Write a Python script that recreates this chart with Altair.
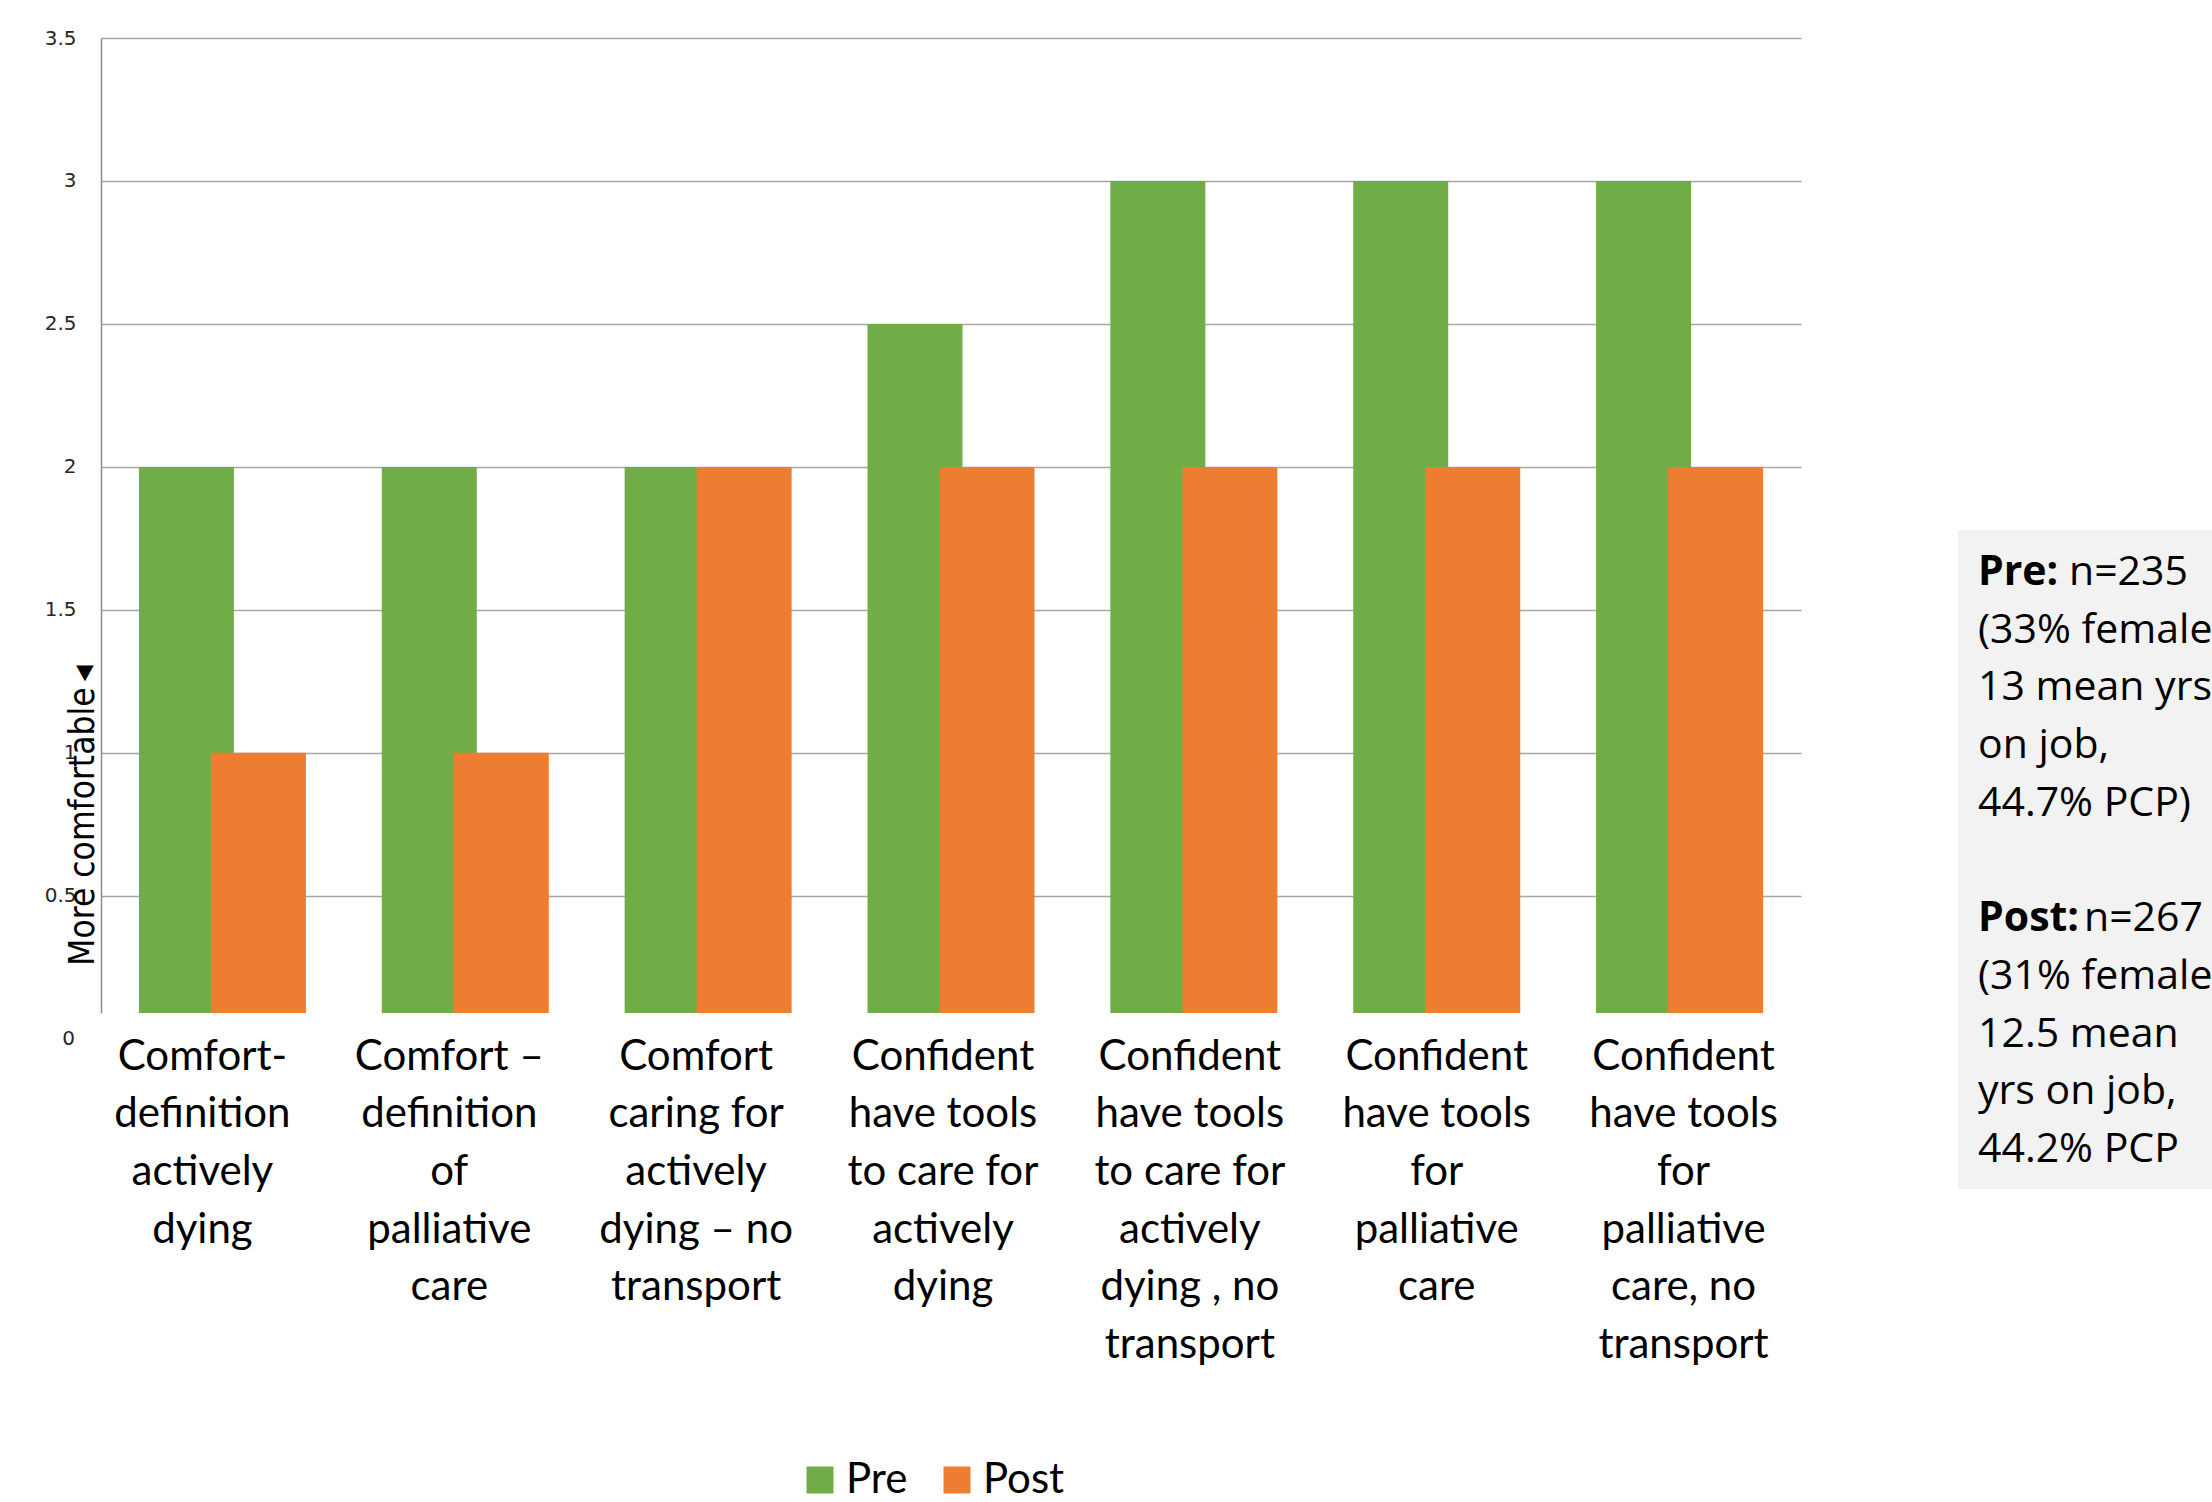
import altair as alt
import pandas as pd

# ---- data -------------------------------------------------------------
categories = [
    "Comfort-|definition|actively|dying",
    "Comfort –|definition|of|palliative|care",
    "Comfort|caring for|actively|dying – no|transport",
    "Confident|have tools|to care for|actively|dying",
    "Confident|have tools|to care for|actively|dying , no|transport",
    "Confident|have tools|for|palliative|care",
    "Confident|have tools|for|palliative|care, no|transport",
]
pre_values = [2, 2, 2, 2.5, 3, 3, 3]
post_values = [1, 1, 2, 2, 2, 2, 2]
series = ["Pre", "Post"]
colors = ["#70AD47", "#ED7D31"]
y_ticks = [0.5, 1, 1.5, 2, 2.5, 3, 3.5]
y_zero_label = "0"

pre_head = "Pre:"
pre_n = "n=235"
pre_lines = ["(33% female,", "13 mean yrs", "on job,", "44.7% PCP)"]
post_head = "Post:"
post_n = "n=267"
post_lines = ["(31% female,", "12.5 mean", "yrs on job,", "44.2% PCP"]

rows = []
for c, a, b in zip(categories, pre_values, post_values):
    rows.append({"cat": c, "series": "Pre", "value": a})
    rows.append({"cat": c, "series": "Post", "value": b})
df = pd.DataFrame(rows)

one = pd.DataFrame({"k": [0]})

# ---- layout (plot-area relative) ---------------------------------------
W, H = 1700, 975
LH = 57.7
FONT = "Lato"
BOX_FONT = "Open Sans"

y_scale = alt.Scale(domain=[0.09, 3.5], nice=False, zero=False)

bars = alt.Chart(df).mark_bar(width=95, clip=True).encode(
    x=alt.X("cat:N", sort=categories, title=None,
            scale=alt.Scale(paddingInner=0.407, paddingOuter=0.2035),
            axis=alt.Axis(
                labelExpr="split(datum.label, '|')",
                labelAngle=0, labelFont=FONT, labelFontSize=42,
                labelColor="#000000", labelLineHeight=LH,
                labelPadding=23, labelLimit=0, labelOverlap=False,
                labelBaseline="top",
                labelOffset={"condition": [
                    {"test": "datum.index < 0.08", "value": -20},
                    {"test": "datum.index < 0.25", "value": -16},
                    {"test": "datum.index < 0.42", "value": -12},
                    {"test": "datum.index < 0.58", "value": -8},
                    {"test": "datum.index < 0.75", "value": -4},
                    {"test": "datum.index < 0.92", "value": 0}],
                    "value": 4},
                ticks=False, domain=False, grid=False)),
    xOffset=alt.XOffset("series:N", sort=series,
                        scale=alt.Scale(domain=series, paddingInner=0, paddingOuter=0)),
    y=alt.Y("value:Q", title="More comfortable\u2009\u25c2",
            scale=y_scale,
            axis=alt.Axis(values=y_ticks, format="~g",
                          labelFont="DejaVu Sans", labelFontSize=20,
                          labelColor="#262626", labelPadding=25,
                          ticks=False, domain=True, domainColor="#8C8C8C",
                          domainWidth=1.5,
                          grid=True, gridColor="#A6A6A6", gridWidth=1.4,
                          titleFont="DejaVu Sans Condensed", titleFontSize=35,
                          titleFontWeight="normal", titleColor="#000000",
                          titleAngle=270, titleAlign="center",
                          titleBaseline="alphabetic", titleX=-8, titleY=777)),
    color=alt.Color("series:N", sort=series,
                    scale=alt.Scale(domain=series, range=colors),
                    legend=alt.Legend(title=None, orient="none", direction="horizontal",
                                      legendX=698, legendY=1421,
                                      symbolType="square", symbolSize=729,
                                      symbolStrokeWidth=0,
                                      labelFont=FONT, labelFontSize=42,
                                      labelColor="#000000", labelOffset=5,
                                      columnPadding=28, padding=0)),
)

zero_lbl = alt.Chart(one).mark_text(
    text=y_zero_label, align="right", baseline="middle", font="DejaVu Sans",
    fontSize=20, color="#262626").encode(
    x=alt.value(-26), y=alt.datum(0))

box = alt.Chart(one).mark_rect(color="#F2F2F2").encode(
    x=alt.value(1857), x2=alt.value(2200), y=alt.value(492), y2=alt.value(1151))

TX = 1877
TY = 515


def txt(text, x, line, bold=False):
    return alt.Chart(one).mark_text(
        text=text, align="left", baseline="top", font=BOX_FONT, fontSize=41,
        fontWeight="bold" if bold else "normal", lineHeight=LH,
        color="#000000").encode(x=alt.value(x), y=alt.value(TY + line * LH))


layers = [
    bars, zero_lbl, box,
    txt(pre_head, TX, 0, bold=True),
    txt(pre_n, 1968, 0),
    txt(pre_lines, TX, 1),
    txt(post_head, TX, 6, bold=True),
    txt(post_n, 1983, 6),
    txt(post_lines, TX, 7),
]

chart = alt.layer(*layers).properties(
    width=W, height=H,
    autosize=alt.AutoSizeParams(type="none"),
    padding={"left": 101, "top": 38, "right": 411, "bottom": 489},
    background="#FFFFFF",
).configure_view(stroke=None)

chart.save("out.html", embed_options={"renderer": "svg", "actions": False})
